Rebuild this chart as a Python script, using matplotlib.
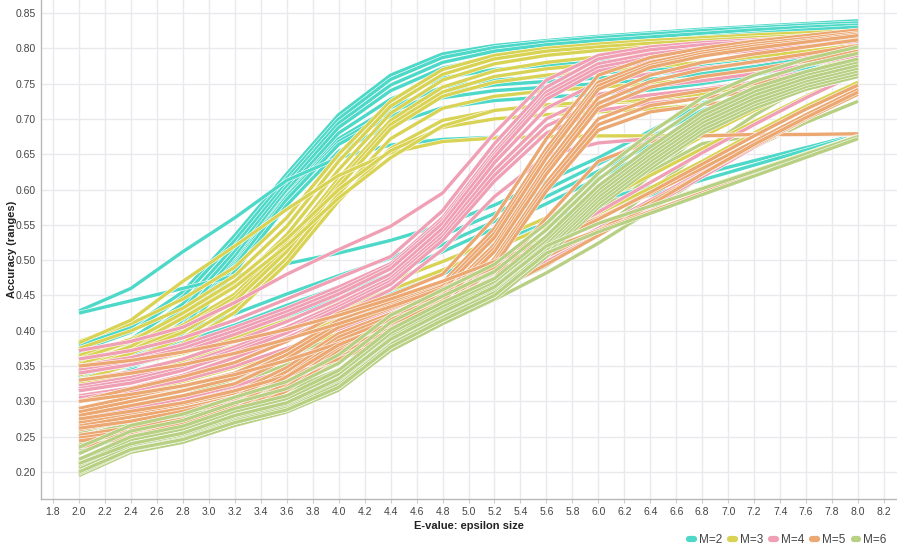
import numpy as np
import matplotlib
matplotlib.use("Agg")
import matplotlib.pyplot as plt
import matplotlib.patheffects as pe
from matplotlib.lines import Line2D

N = np.nan

x_values = [2.0, 2.4, 2.8, 3.2, 3.6, 4.0, 4.4, 4.8, 5.2, 5.6, 6.0, 6.4, 6.8, 7.2, 7.6, 8.0]

series_labels = ["M=2", "M=3", "M=4", "M=5", "M=6"]
series_colors = ["#4DD8C8", "#D9D355", "#F0A0B4", "#ECA872", "#B8D083"]

m2_lines = [
    [.380, .405, .455, .535, .622, .706, .762, .792, .804, .811, .817, .822, .827, .831, .835, .839],
    [.372, .398, .448, .528, .616, .700, .756, .787, .801, .809, .815, .820, .825, .829, .833, .836],
    [.362, .388, .438, .520, .610, .694, .748, .780, .796, .805, .811, .816, .821, .826, .830, .833],
    [.352, .380, .430, .512, .604, .688, .740, .772, .788, .797, .804, .810, .816, .821, .826, .830],
    [.342, .370, .420, .505, .598, .680, .728, .758, .770, .776, .781, .787, .793, .799, .805, .812],
    [.334, .362, .412, .498, .592, .672, .716, .745, .755, .760, .765, .770, .777, .786, .795, .804],
    [.330, .358, .408, .495, .590, .668, .710, .738, .748, .753, .758, .763, .770, .780, .790, .801],
    [.325, .354, .404, .492, .586, .664, .704, .730, .740, .745, .750, .756, .764, .774, .786, .798],
    [.315, .345, .395, .484, .578, .654, .692, .716, .726, .731, .735, .741, .750, .762, .777, .792],
    [.428, .460, .512, .560, .613, .645, .663, .671, .674, .675, .676, .676, .677, .677, .678, .678],
    [.425, N, N, N, .495, .510, .528, .550, .578, .612, .645, .683, .722, .748, .772, .796],
    [.368, .382, .400, .424, .452, .478, .503, .535, .566, .600, .636, .674, .712, .740, .765, .790],
    [.350, .364, .384, .408, .436, .462, .490, .522, .555, .590, .626, .663, .700, .730, .756, .782],
    [.340, .354, .374, .398, .426, .452, .480, .512, .545, .580, .616, .654, .692, .724, .750, .776],
    [.335, .350, .370, .394, .420, .446, .472, .498, .525, .552, .585, N, N, N, N, .678],
    [.322, .336, .355, .378, .403, .428, .452, .480, .515, .550, N, N, N, N, N, .677],
]

m3_lines = [
    [.385, .410, .445, .490, .560, .650, .725, .770, .790, .800, .806, .811, .815, .819, .822, .825],
    [.375, .400, .432, .478, .548, .640, .718, .763, .785, .796, .802, .807, .811, .815, .818, .821],
    [.365, .388, .420, .465, .536, .628, .708, .755, .778, .790, .797, .802, .807, .811, .815, .818],
    [.355, .378, .408, .452, .524, .616, .698, .745, .768, .780, .788, .794, .800, .805, .810, .815],
    [.350, .373, .403, .447, .518, .610, .692, .738, .760, .771, .778, .784, .790, .797, .804, .811],
    [.345, .368, .398, .442, .512, .604, .686, .732, .752, .762, .768, .774, .780, .788, .796, .805],
    [.337, .360, .390, .434, .503, .594, .672, .715, .732, .740, .745, .750, .757, .767, .780, .795],
    [.330, .352, .382, .426, .495, .584, .658, .698, .712, .718, .722, .726, .733, .745, .762, .783],
    [.383, .415, .470, .520, .572, .620, .652, .668, .673, .675, .676, .676, .677, .677, .678, .678],
    [.360, .385, .425, .470, .530, .600, .655, .688, .700, .706, .710, .714, .720, .730, .748, .772],
    [.352, .378, .418, .462, .520, .588, .645, .690, .712, .720, .724, .728, .735, .748, .766, .790],
    [.340, .352, .368, .390, .415, .442, .470, .498, .528, .560, .596, .635, .675, .712, .745, .778],
    [.325, .338, .356, .378, .402, .430, .458, .486, .516, .548, .582, .620, .658, .696, .732, .766],
    [.318, .330, .346, .366, .390, .416, .442, .470, .500, .532, .566, .602, .640, .680, .718, .752],
    [.300, .312, .328, .348, .372, .396, .424, .455, .490, .528, N, N, N, N, N, .676],
]

m4_lines = [
    [.372, .385, .405, .440, .480, .515, .548, .595, .680, .755, .790, .802, .808, .812, .816, .820],
    [.360, .372, .390, .415, .445, .475, .505, .570, .665, .745, .785, .798, .805, .810, .814, .818],
    [.350, .362, .380, .405, .432, .462, .495, .560, .655, .738, .778, .792, .800, .806, .811, .815],
    [.345, .357, .375, .400, .427, .457, .492, .556, .650, .733, .773, .787, .795, .801, .807, .813],
    [.340, .352, .370, .395, .422, .452, .488, .552, .646, .728, .768, .782, .790, .797, .803, .810],
    [.330, .342, .360, .385, .413, .445, .480, .545, .638, .715, .752, .764, .772, .780, .790, .800],
    [.322, .334, .352, .377, .405, .438, .474, .538, .628, .700, .735, .746, .754, .764, .776, .790],
    [.318, .330, .348, .373, .401, .434, .470, .533, .620, .690, .724, .734, .742, .752, .767, .783],
    [.315, .326, .344, .369, .397, .430, .466, .528, .612, .680, .712, .722, .730, .742, .758, .776],
    [.308, .319, .337, .362, .390, .422, .458, .515, .590, .648, .666, .672, .676, .677, .678, .678],
    [.305, .315, .330, .350, .375, .402, .430, .460, .492, .528, .568, .610, .652, .692, .730, .765],
    [.290, .300, .315, .335, .358, .384, .412, .442, .474, .508, .545, .585, .625, .665, .702, .738],
    [.270, .282, .298, .318, .342, .368, .396, .428, .462, .498, .536, .576, .618, .660, .700, .740],
    [.280, .290, .304, .322, .344, .370, .400, .435, .475, .515, N, N, N, N, N, .676],
]

m5_lines = [
    [.300, .318, .335, .355, .385, .425, .450, .480, .560, .672, .762, .787, .800, .810, .818, .826],
    [.290, .306, .322, .340, .372, .415, .440, .468, .545, .658, .752, .780, .795, .806, .814, .822],
    [.285, .300, .315, .333, .366, .410, .436, .463, .538, .651, .747, .776, .792, .803, .811, .820],
    [.280, .294, .308, .325, .360, .405, .432, .458, .532, .645, .742, .773, .789, .800, .809, .818],
    [.270, .283, .296, .312, .348, .396, .424, .450, .522, .634, .730, .762, .780, .792, .802, .812],
    [.265, .278, .290, .306, .342, .391, .420, .446, .517, .628, .722, .753, .770, .781, .792, .804],
    [.260, .272, .284, .300, .336, .386, .416, .442, .512, .622, .715, .745, .760, .770, .782, .796],
    [.252, .263, .275, .290, .325, .376, .408, .434, .502, .610, .700, .728, .740, .750, .764, .780],
    [.248, .258, .270, .285, .320, .371, .404, .430, .497, .604, .692, .719, .730, .739, .753, .770],
    [.244, .254, .266, .281, .315, .366, .400, .426, .492, .598, .684, .710, .720, .728, .742, .760],
    [.262, .272, .286, .304, .330, .362, .395, .425, .475, .560, .640, .668, .676, .678, .678, .679],
    [.350, .358, .370, .385, .402, .422, .445, .470, .498, .528, .560, .594, .630, .668, .706, .742],
    [.330, .340, .352, .368, .388, .410, .434, .460, .490, .522, .558, .596, .636, .676, .714, .748],
    [.300, .310, .322, .338, .358, .382, .408, .438, .470, .505, .542, .582, .622, .662, .700, .735],
    [.275, .286, .298, .315, .336, .360, .388, .420, .455, .494, .535, .578, .622, .664, .702, .738],
    [.235, .250, .270, .295, .335, .380, .410, .440, .475, .515, N, N, N, N, N, .676],
]

# lower green bundle (drawn on top of the others)
m6_bottom = [
    [.195, .228, .242, .266, .285, .316, .372, .410, .445, .505, .575, .630, .680, .715, .742, .760],
    [.198, .231, .246, .270, .288, .320, .377, .415, .450, .510, .580, .635, .685, .720, .746, .764],
    [.202, .235, .250, .274, .292, .325, .382, .420, .455, .515, .585, .640, .690, .724, .750, .768],
    [.206, .238, .253, .278, .296, .330, .387, .425, .460, .520, .590, .645, .695, .729, .754, .772],
    [.210, .242, .257, .282, .300, .334, .392, .430, .465, .524, .595, .650, .700, .734, .758, .776],
    [.214, .246, .261, .286, .304, .339, .397, .435, .470, .529, .600, .655, .705, .739, .763, .781],
    [.218, .250, .265, .290, .308, .344, .402, .440, .474, .534, .605, .660, .710, .744, .767, .785],
    [.226, .258, .273, .298, .318, .354, .412, .449, .484, .543, .614, .670, .720, .753, .776, .793],
    [.235, .266, .282, .306, .328, .366, .422, .458, .494, .552, .623, .680, .730, .762, .785, .802],
    [.212, .240, .255, .280, .298, .332, .388, .426, .462, .520, .552, N, N, N, N, .675],
    [.200, .232, .246, .270, .288, .320, .377, .415, .450, .510, .540, N, N, N, N, .672],
]
# other green lines (drawn beneath the other groups)
m6_upper = [
    [.250, .270, .290, .312, .340, .372, .405, .438, .472, .510, .560, .620, .680, .730, .770, .800],
    [.256, .276, .296, .318, .346, .378, .410, .443, .477, .515, .566, .626, .685, .734, .772, .802],
    [.262, .282, .302, .325, .352, .384, .416, .448, .482, .520, .572, .632, .690, .738, .775, .805],
    [.268, .288, .308, .332, .358, .390, .422, .454, .488, .526, .578, .638, .695, .742, .778, .806],
    [.275, .295, .315, .338, .365, .396, .428, .460, .494, .532, .585, .645, .700, .745, .780, .808],
    [.238, .258, .278, .300, .327, .358, .390, .422, .456, .492, .540, .598, .655, .705, .748, .785],
    [.232, .250, .268, .290, .315, .345, .378, .410, .444, .482, .524, .570, .618, .660, .695, .725],
    [.285, .300, .318, .340, .365, .392, .420, .450, .482, .520, .570, .625, .665, .676, .678, .679],
]

plt.rcParams['font.family'] = ['Liberation Sans', 'DejaVu Sans']

fig = plt.figure(figsize=(8.97, 5.54), dpi=100)
ax = fig.add_axes([41 / 897, 1 - 499 / 554, 856 / 897, 499 / 554])

xs = np.array(x_values)
lw = 2.4


def draw(group, color, z):
    for vals in group:
        ys = np.array(vals, dtype=float)
        m = ~np.isnan(ys)
        ax.plot(xs[m], ys[m], color=color, lw=lw, solid_joinstyle='round',
                solid_capstyle='butt', zorder=z,
                path_effects=[pe.Stroke(linewidth=lw + 0.8, foreground='white'), pe.Normal()])


draw(m6_upper, series_colors[4], 2.5)
for group, color in zip([m2_lines, m3_lines, m4_lines, m5_lines], series_colors[:4]):
    draw(group, color, 3)
draw(m6_bottom, series_colors[4], 4)

ax.set_xlim(1.7075, 8.30)
ax.set_ylim(0.1618, 0.8684)
xt = np.round(np.arange(1.8, 8.21, 0.2), 1)
ax.set_xticks(xt)
ax.set_xticklabels([f"{v:.1f}" for v in xt])
yt = np.round(np.arange(0.20, 0.851, 0.05), 2)
ax.set_yticks(yt)
ax.set_yticklabels([f"{v:.2f}" for v in yt])

ax.grid(True, color='#e9e9ee', lw=1.0, zorder=0)
ax.set_axisbelow(True)
for s in ['top', 'right']:
    ax.spines[s].set_visible(False)
for s in ['left', 'bottom']:
    ax.spines[s].set_color('#b8b8b8')
    ax.spines[s].set_linewidth(1.0)
ax.tick_params(axis='x', length=3, color='#cccccc', labelsize=7.5, labelcolor='#444444', pad=2.5)
ax.tick_params(axis='y', length=0, labelsize=7.5, labelcolor='#444444', pad=4)

ax.set_xlabel("E-value: epsilon size", fontsize=8, fontweight='bold', color='#222222', labelpad=3)
ax.set_ylabel("Accuracy (ranges)", fontsize=8, fontweight='bold', color='#222222')
ax.yaxis.set_label_coords(-0.028, 0.5)

handles = [Line2D([0], [0], color=c, lw=4.5, solid_capstyle='round') for c in series_colors]
fig.legend(handles, series_labels, loc='lower right', bbox_to_anchor=(1.0, -0.005), ncol=5,
           frameon=False, fontsize=8.5, handlelength=0.4, handletextpad=0.4, columnspacing=0.7,
           labelcolor='#444444')

fig.savefig("out.png", dpi=100)
